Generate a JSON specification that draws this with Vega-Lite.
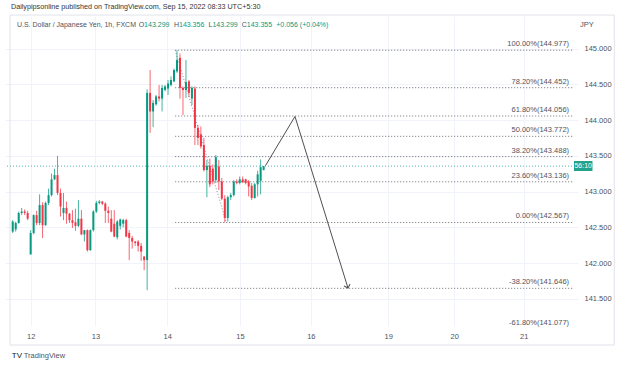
{
  "$schema": "https://vega.github.io/schema/vega-lite/v6.json",
  "autosize": "none",
  "width": 573,
  "height": 310,
  "padding": {"left": 5, "top": 16, "right": 47, "bottom": 41},
  "background": "#ffffff",
  "config": {"view": {"stroke": null}, "font": "Liberation Sans"},
  "datasets": {
    "candles": [
      {"t":-6,"o":142.44,"h":142.60,"l":142.42,"c":142.58},
      {"t":-5,"o":142.47,"h":142.58,"l":142.44,"c":142.56},
      {"t":-4,"o":142.56,"h":142.72,"l":142.55,"c":142.70},
      {"t":-3,"o":142.70,"h":142.77,"l":142.67,"c":142.72},
      {"t":-2,"o":142.72,"h":142.75,"l":142.67,"c":142.70},
      {"t":-1,"o":142.70,"h":142.73,"l":142.60,"c":142.62},
      {"t":0,"o":142.12,"h":142.46,"l":142.12,"c":142.42},
      {"t":1,"o":142.42,"h":142.68,"l":142.40,"c":142.67},
      {"t":2,"o":142.67,"h":142.73,"l":142.53,"c":142.56},
      {"t":3,"o":142.56,"h":142.96,"l":142.53,"c":142.81},
      {"t":4,"o":142.81,"h":142.85,"l":142.35,"c":142.53},
      {"t":5,"o":142.53,"h":142.86,"l":142.52,"c":142.84},
      {"t":6,"o":142.84,"h":143.04,"l":142.81,"c":142.95},
      {"t":7,"o":142.95,"h":143.25,"l":142.93,"c":143.17},
      {"t":8,"o":143.17,"h":143.32,"l":143.16,"c":143.23},
      {"t":9,"o":143.23,"h":143.50,"l":142.95,"c":142.98},
      {"t":10,"o":142.98,"h":143.04,"l":142.65,"c":142.79},
      {"t":11,"o":142.70,"h":142.98,"l":142.60,"c":142.77},
      {"t":12,"o":142.77,"h":142.86,"l":142.55,"c":142.69},
      {"t":13,"o":142.69,"h":142.70,"l":142.56,"c":142.60},
      {"t":14,"o":142.60,"h":142.74,"l":142.49,"c":142.56},
      {"t":15,"o":142.57,"h":142.76,"l":142.45,"c":142.52},
      {"t":16,"o":142.52,"h":142.88,"l":142.50,"c":142.62},
      {"t":17,"o":142.62,"h":142.74,"l":142.39,"c":142.40},
      {"t":18,"o":142.40,"h":142.46,"l":142.30,"c":142.46},
      {"t":19,"o":142.46,"h":142.47,"l":142.16,"c":142.18},
      {"t":20,"o":142.18,"h":142.47,"l":142.17,"c":142.46},
      {"t":21,"o":142.46,"h":142.74,"l":142.44,"c":142.72},
      {"t":22,"o":142.72,"h":142.87,"l":142.70,"c":142.84},
      {"t":23,"o":142.84,"h":142.88,"l":142.82,"c":142.86},
      {"t":24,"o":142.86,"h":142.87,"l":142.81,"c":142.83},
      {"t":25,"o":142.83,"h":142.85,"l":142.56,"c":142.73},
      {"t":26,"o":142.73,"h":142.79,"l":142.56,"c":142.70},
      {"t":27,"o":142.62,"h":142.74,"l":142.43,"c":142.44},
      {"t":28,"o":142.55,"h":142.74,"l":142.36,"c":142.37},
      {"t":29,"o":142.36,"h":142.60,"l":142.33,"c":142.58},
      {"t":30,"o":142.52,"h":142.62,"l":142.47,"c":142.61},
      {"t":31,"o":142.55,"h":142.62,"l":142.50,"c":142.60},
      {"t":32,"o":142.60,"h":142.62,"l":142.36,"c":142.37},
      {"t":33,"o":142.42,"h":142.46,"l":142.04,"c":142.35},
      {"t":34,"o":142.35,"h":142.38,"l":142.20,"c":142.30},
      {"t":35,"o":142.30,"h":142.31,"l":142.24,"c":142.28},
      {"t":36,"o":142.30,"h":142.32,"l":142.16,"c":142.24},
      {"t":37,"o":142.24,"h":142.28,"l":142.03,"c":142.16},
      {"t":38,"o":142.09,"h":142.10,"l":141.90,"c":142.04},
      {"t":39,"o":142.04,"h":144.43,"l":141.62,"c":144.38},
      {"t":40,"o":144.38,"h":144.70,"l":143.82,"c":144.12},
      {"t":41,"o":144.12,"h":144.28,"l":143.90,"c":144.24},
      {"t":42,"o":144.22,"h":144.35,"l":144.20,"c":144.33},
      {"t":43,"o":144.33,"h":144.49,"l":144.26,"c":144.30},
      {"t":44,"o":144.30,"h":144.49,"l":144.12,"c":144.45},
      {"t":45,"o":144.42,"h":144.49,"l":144.40,"c":144.47},
      {"t":46,"o":144.44,"h":144.56,"l":144.35,"c":144.51},
      {"t":47,"o":144.49,"h":144.61,"l":144.47,"c":144.56},
      {"t":48,"o":144.54,"h":144.72,"l":144.53,"c":144.70},
      {"t":49,"o":144.68,"h":144.977,"l":144.66,"c":144.84},
      {"t":50,"o":144.87,"h":144.93,"l":144.30,"c":144.45},
      {"t":51,"o":144.45,"h":144.47,"l":144.07,"c":144.42},
      {"t":52,"o":144.42,"h":144.84,"l":144.31,"c":144.53},
      {"t":53,"o":144.54,"h":144.56,"l":144.32,"c":144.38},
      {"t":54,"o":144.30,"h":144.47,"l":144.21,"c":144.45},
      {"t":55,"o":144.44,"h":144.47,"l":143.65,"c":143.89},
      {"t":56,"o":143.89,"h":143.93,"l":143.65,"c":143.75},
      {"t":57,"o":143.80,"h":143.91,"l":143.60,"c":143.63},
      {"t":58,"o":143.65,"h":143.75,"l":143.28,"c":143.30},
      {"t":59,"o":143.30,"h":143.44,"l":142.92,"c":143.36},
      {"t":60,"o":143.36,"h":143.46,"l":143.06,"c":143.10},
      {"t":61,"o":143.32,"h":143.38,"l":143.10,"c":143.14},
      {"t":62,"o":143.16,"h":143.51,"l":143.12,"c":143.48},
      {"t":63,"o":143.35,"h":143.44,"l":143.02,"c":143.14},
      {"t":64,"o":143.14,"h":143.19,"l":142.88,"c":142.90},
      {"t":65,"o":142.90,"h":142.95,"l":142.567,"c":142.63},
      {"t":66,"o":142.63,"h":142.94,"l":142.58,"c":142.92},
      {"t":67,"o":142.92,"h":142.98,"l":142.88,"c":142.95},
      {"t":68,"o":142.95,"h":143.16,"l":142.93,"c":143.14},
      {"t":69,"o":143.14,"h":143.17,"l":143.10,"c":143.12},
      {"t":70,"o":143.12,"h":143.21,"l":143.10,"c":143.17},
      {"t":71,"o":143.17,"h":143.21,"l":143.12,"c":143.13},
      {"t":72,"o":143.17,"h":143.18,"l":143.10,"c":143.12},
      {"t":73,"o":143.14,"h":143.16,"l":142.93,"c":143.07},
      {"t":74,"o":143.08,"h":143.12,"l":142.88,"c":142.91},
      {"t":75,"o":142.91,"h":143.12,"l":142.90,"c":143.10},
      {"t":76,"o":143.10,"h":143.29,"l":142.93,"c":143.24},
      {"t":77,"o":143.15,"h":143.45,"l":142.96,"c":143.34},
      {"t":78,"o":143.299,"h":143.356,"l":143.299,"c":143.355}
    ],
    "fib": [
      {"lvl":"100.00%(144.977)","p":144.977,"x0":48.4,"x1":181.58,"xl":180.26},
      {"lvl":"78.20%(144.452)","p":144.452,"x0":48.4,"x1":181.58,"xl":180.26},
      {"lvl":"61.80%(144.056)","p":144.056,"x0":48.4,"x1":181.58,"xl":180.26},
      {"lvl":"50.00%(143.772)","p":143.772,"x0":48.4,"x1":181.58,"xl":180.26},
      {"lvl":"38.20%(143.488)","p":143.488,"x0":48.4,"x1":181.58,"xl":180.26},
      {"lvl":"23.60%(143.136)","p":143.136,"x0":48.4,"x1":181.58,"xl":180.26},
      {"lvl":"0.00%(142.567)","p":142.567,"x0":48.4,"x1":181.58,"xl":180.26},
      {"lvl":"-38.20%(141.646)","p":141.646,"x0":48.4,"x1":181.58,"xl":180.26},
      {"lvl":"-61.80%(141.077)","p":141.077,"x0":48.4,"x1":181.58,"xl":180.26}
    ],
    "arrow": [
      {"t":78.6,"p":143.36,"k":0},
      {"t":88.5,"p":144.05,"k":1},
      {"t":106.25,"p":141.65,"k":2}
    ],
    "texts": [
      {"t":-6.58,"p":145.58,"s":"Dailypipsonline published on TradingView.com, Sep 15, 2022 08:33 UTC+5:30","col":"#333333","fs":7.2,"fw":"normal"},
      {"t":-4.6,"p":145.329,"s":"U.S. Dollar / Japanese Yen, 1h, FXCM","col":"#50535e","fs":7,"fw":"normal"},
      {"t":36.18,"p":145.329,"s":"O","col":"#50535e","fs":7,"fw":"normal"},
      {"t":37.99,"p":145.329,"s":"143.299","col":"#089981","fs":7,"fw":"normal"},
      {"t":48.03,"p":145.329,"s":"H","col":"#50535e","fs":7,"fw":"normal"},
      {"t":49.67,"p":145.329,"s":"143.356","col":"#089981","fs":7,"fw":"normal"},
      {"t":59.54,"p":145.329,"s":"L","col":"#50535e","fs":7,"fw":"normal"},
      {"t":60.86,"p":145.329,"s":"143.299","col":"#089981","fs":7,"fw":"normal"},
      {"t":70.72,"p":145.329,"s":"C","col":"#50535e","fs":7,"fw":"normal"},
      {"t":72.37,"p":145.329,"s":"143.355","col":"#089981","fs":7,"fw":"normal"},
      {"t":82.24,"p":145.329,"s":"+0.056 (+0.04%)","col":"#089981","fs":7,"fw":"normal"},
      {"t":183.9,"p":145.329,"s":"JPY","col":"#50535e","fs":7.5,"fw":"normal"},
      {"t":-6.3,"p":140.699,"s":"TV","col":"#131722","fs":8,"fw":"bold"},
      {"t":-2.3,"p":140.699,"s":"TradingView","col":"#50535e","fs":7.5,"fw":"normal"}
    ]
  },
  "layer": [
    {
      "data": {"values": [{"x0": -6.91, "x1": 195.4, "p0": 145.4685, "p1": 140.853}]},
      "mark": {"type": "rect", "fill": null, "stroke": "#e0e3eb", "strokeWidth": 1},
      "encoding": {
        "x": {"field": "x0", "type": "quantitative", "title": null, "scale": {"domain": [-6.91, 181.58], "nice": false, "zero": false},
          "axis": {"orient": "bottom", "values": [0, 21.7, 45.7, 70.1, 93.8, 119.7, 141.8, 165.1], "labelExpr": "datum.value < 10 ? '12' : datum.value < 30 ? '13' : datum.value < 55 ? '14' : datum.value < 80 ? '15' : datum.value < 100 ? '16' : datum.value < 130 ? '19' : datum.value < 150 ? '20' : '21'", "ticks": false, "domain": false, "grid": true, "gridColor": "#f0f3fa", "gridWidth": 1, "labelFontSize": 7.5, "labelColor": "#50535e", "labelPadding": 6, "labelFont": "Liberation Sans"}},
        "x2": {"field": "x1"},
        "y": {"field": "p0", "type": "quantitative", "title": null, "scale": {"domain": [141.119, 145.455], "nice": false, "zero": false},
          "axis": {"orient": "right", "values": [141.5, 142, 142.5, 143, 143.5, 144, 144.5, 145], "format": ".3f", "ticks": false, "domain": false, "grid": true, "gridColor": "#f0f3fa", "gridWidth": 1, "labelFontSize": 7.5, "labelColor": "#50535e", "labelPadding": 6, "labelFont": "Liberation Sans"}},
        "y2": {"field": "p1"}
      }
    },
    {
      "data": {"values": [{"p": 143.355}]},
      "mark": {"type": "rule", "stroke": "#26a69a", "strokeDash": [1, 2], "strokeWidth": 1, "opacity": 0.8},
      "encoding": {"y": {"field": "p", "type": "quantitative", "title": null}}
    },
    {
      "data": {"name": "fib"},
      "mark": {"type": "rule", "stroke": "#6a6d78", "strokeDash": [1, 2], "strokeWidth": 1, "clip": true},
      "encoding": {
        "x": {"field": "x0", "type": "quantitative", "title": null},
        "x2": {"field": "x1"},
        "y": {"field": "p", "type": "quantitative", "title": null}
      }
    },
    {
      "data": {"name": "fib"},
      "mark": {"type": "text", "align": "right", "baseline": "middle", "dy": -6, "fontSize": 7.5, "color": "#50535e", "font": "Liberation Sans"},
      "encoding": {
        "x": {"field": "xl", "type": "quantitative", "title": null},
        "y": {"field": "p", "type": "quantitative", "title": null},
        "text": {"field": "lvl"}
      }
    },
    {
      "data": {"values": [{"t0": 48.4, "p0": 144.977, "t1": 65.5, "p1": 142.567}]},
      "mark": {"type": "rule", "stroke": "#8a8d98", "strokeDash": [1, 2], "strokeWidth": 1},
      "encoding": {
        "x": {"field": "t0", "type": "quantitative", "title": null},
        "x2": {"field": "t1"},
        "y": {"field": "p0", "type": "quantitative", "title": null},
        "y2": {"field": "p1"}
      }
    },
    {
      "data": {"name": "candles"},
      "mark": {"type": "rule", "strokeWidth": 1, "opacity": 0.75},
      "encoding": {
        "x": {"field": "t", "type": "quantitative", "title": null},
        "y": {"field": "l", "type": "quantitative", "title": null},
        "y2": {"field": "h"},
        "color": {"condition": {"test": "datum.c >= datum.o", "value": "#089981"}, "value": "#f23645"}
      }
    },
    {
      "data": {"name": "candles"},
      "mark": {"type": "bar", "size": 2},
      "encoding": {
        "x": {"field": "t", "type": "quantitative", "title": null},
        "y": {"field": "o", "type": "quantitative", "title": null},
        "y2": {"field": "c"},
        "color": {"condition": {"test": "datum.c >= datum.o", "value": "#089981"}, "value": "#f23645"}
      }
    },
    {
      "data": {"name": "arrow"},
      "mark": {"type": "line", "stroke": "#505050", "strokeWidth": 1},
      "encoding": {
        "x": {"field": "t", "type": "quantitative", "title": null},
        "y": {"field": "p", "type": "quantitative", "title": null},
        "order": {"field": "k"}
      }
    },
    {
      "data": {"values": [{"t": 106.25, "p": 141.65}]},
      "mark": {"type": "point", "shape": "M-1,-1L0,0L1,-1", "filled": false, "stroke": "#505050", "strokeWidth": 1, "size": 40, "angle": 342.5, "opacity": 1},
      "encoding": {
        "x": {"field": "t", "type": "quantitative", "title": null},
        "y": {"field": "p", "type": "quantitative", "title": null}
      }
    },
    {
      "data": {"values": [{"t0": 181.9, "t1": 188.1, "p0": 143.427, "p1": 143.287}]},
      "mark": {"type": "rect", "fill": "#22a18c"},
      "encoding": {
        "x": {"field": "t0", "type": "quantitative", "title": null},
        "x2": {"field": "t1"},
        "y": {"field": "p0", "type": "quantitative", "title": null},
        "y2": {"field": "p1"}
      }
    },
    {
      "data": {"values": [{"t": 185, "p": 143.357, "s": "56:10"}]},
      "mark": {"type": "text", "align": "center", "baseline": "middle", "fontSize": 7, "color": "#ffffff", "font": "Liberation Sans"},
      "encoding": {
        "x": {"field": "t", "type": "quantitative", "title": null},
        "y": {"field": "p", "type": "quantitative", "title": null},
        "text": {"field": "s"}
      }
    },
    {
      "data": {"name": "texts"},
      "mark": {"type": "text", "align": "left", "baseline": "middle", "font": "Liberation Sans"},
      "encoding": {
        "x": {"field": "t", "type": "quantitative", "title": null},
        "y": {"field": "p", "type": "quantitative", "title": null},
        "text": {"field": "s"},
        "color": {"field": "col", "type": "nominal", "scale": null},
        "size": {"field": "fs", "type": "quantitative", "scale": null},
        "fontWeight": {"field": "fw", "type": "nominal"}
      }
    }
  ]
}
